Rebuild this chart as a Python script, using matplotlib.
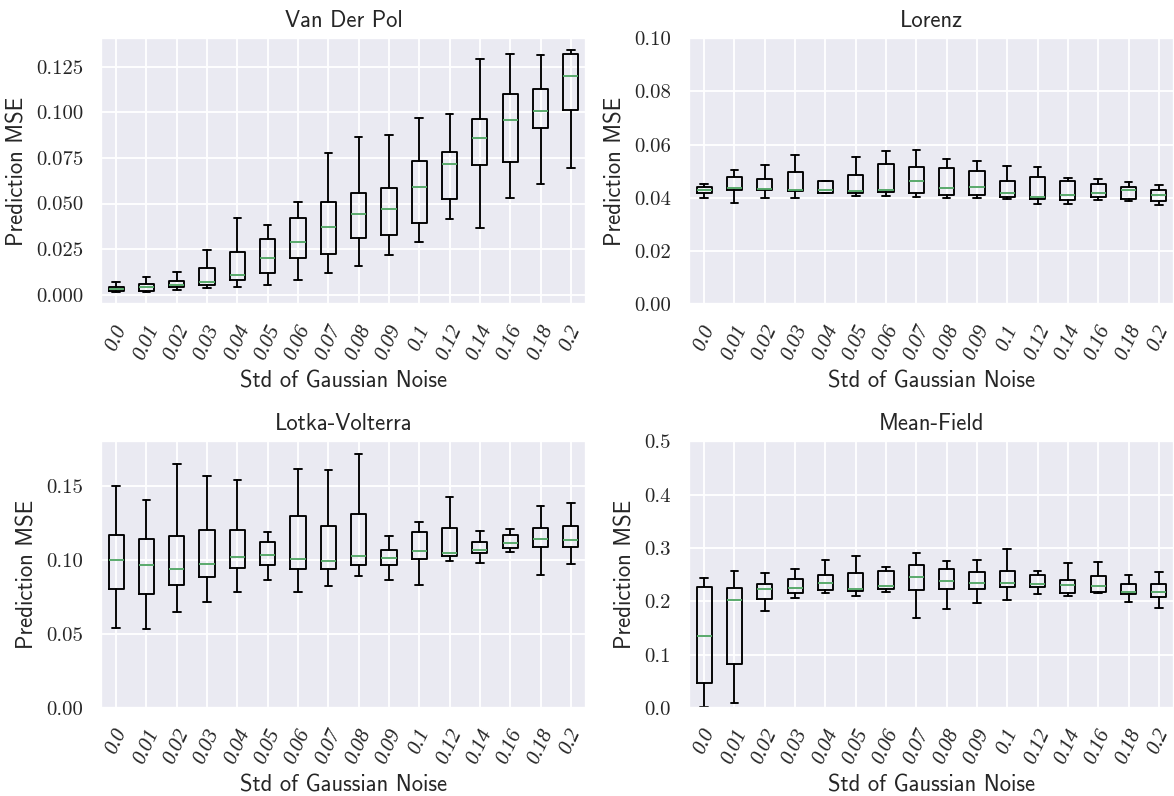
import numpy as np
import matplotlib
matplotlib.use("Agg")
import matplotlib.pyplot as plt
import seaborn as sns

# noise levels used on the x axis
noise_levels = [0.0, 0.01, 0.02, 0.03, 0.04, 0.05, 0.06, 0.07, 0.08, 0.09,
                0.1, 0.12, 0.14, 0.16, 0.18, 0.2]

# box statistics per system: lower whisker, Q1, median, Q3, upper whisker
vdp_lo  = [0.0013, 0.0016, 0.0024, 0.0037, 0.0042, 0.0053, 0.0082, 0.0120,
           0.0155, 0.0219, 0.0288, 0.0414, 0.0367, 0.0531, 0.0608, 0.0692]
vdp_q1  = [0.0022, 0.0022, 0.0042, 0.0055, 0.0080, 0.0119, 0.0204, 0.0224,
           0.0310, 0.0329, 0.0391, 0.0522, 0.0710, 0.0725, 0.0914, 0.1013]
vdp_med = [0.0033, 0.0040, 0.0055, 0.0068, 0.0108, 0.0203, 0.0287, 0.0370,
           0.0443, 0.0471, 0.0588, 0.0717, 0.0860, 0.0958, 0.1007, 0.1201]
vdp_q3  = [0.0045, 0.0058, 0.0078, 0.0148, 0.0232, 0.0308, 0.0423, 0.0506,
           0.0555, 0.0584, 0.0734, 0.0783, 0.0962, 0.1100, 0.1126, 0.1319]
vdp_hi  = [0.0068, 0.0097, 0.0124, 0.0246, 0.0422, 0.0380, 0.0507, 0.0776,
           0.0863, 0.0878, 0.0967, 0.0991, 0.1292, 0.1319, 0.1316, 0.1341]

lor_lo  = [0.0399, 0.0380, 0.0399, 0.0400, 0.0417, 0.0408, 0.0408, 0.0405,
           0.0399, 0.0400, 0.0394, 0.0376, 0.0376, 0.0391, 0.0389, 0.0372]
lor_q1  = [0.0418, 0.0428, 0.0430, 0.0424, 0.0419, 0.0418, 0.0421, 0.0418,
           0.0410, 0.0411, 0.0405, 0.0396, 0.0392, 0.0405, 0.0395, 0.0389]
lor_med = [0.0430, 0.0437, 0.0434, 0.0429, 0.0428, 0.0425, 0.0429, 0.0464,
           0.0437, 0.0439, 0.0419, 0.0404, 0.0409, 0.0420, 0.0430, 0.0409]
lor_q3  = [0.0439, 0.0478, 0.0469, 0.0497, 0.0463, 0.0487, 0.0528, 0.0515,
           0.0511, 0.0499, 0.0465, 0.0478, 0.0464, 0.0453, 0.0439, 0.0429]
lor_hi  = [0.0453, 0.0506, 0.0525, 0.0559, 0.0463, 0.0552, 0.0577, 0.0581,
           0.0547, 0.0540, 0.0518, 0.0516, 0.0474, 0.0472, 0.0458, 0.0448]

lv_lo  = [0.0537, 0.0535, 0.0648, 0.0715, 0.0781, 0.0862, 0.0785, 0.0822,
          0.0892, 0.0862, 0.0828, 0.0995, 0.0982, 0.1054, 0.0898, 0.0971]
lv_q1  = [0.0801, 0.0770, 0.0833, 0.0885, 0.0943, 0.0968, 0.0937, 0.0939,
          0.0968, 0.0964, 0.1007, 0.1027, 0.1045, 0.1079, 0.1088, 0.1090]
lv_med = [0.1002, 0.0964, 0.0939, 0.0971, 0.1020, 0.1031, 0.1007, 0.0995,
          0.1025, 0.1013, 0.1061, 0.1045, 0.1070, 0.1115, 0.1140, 0.1133]
lv_q3  = [0.1167, 0.1140, 0.1160, 0.1201, 0.1201, 0.1124, 0.1298, 0.1226,
          0.1311, 0.1065, 0.1187, 0.1214, 0.1122, 0.1167, 0.1217, 0.1232]
lv_hi  = [0.1496, 0.1402, 0.1650, 0.1566, 0.1537, 0.1187, 0.1614, 0.1609,
          0.1715, 0.1162, 0.1255, 0.1426, 0.1192, 0.1207, 0.1363, 0.1384]

mf_lo  = [0.0010, 0.0088, 0.1811, 0.2063, 0.2164, 0.2094, 0.2170, 0.1686,
          0.1855, 0.1962, 0.2019, 0.2145, 0.2094, 0.2151, 0.1987, 0.1874]
mf_q1  = [0.0459, 0.0818, 0.2038, 0.2164, 0.2214, 0.2189, 0.2226, 0.2220,
          0.2239, 0.2226, 0.2270, 0.2264, 0.2157, 0.2182, 0.2138, 0.2088]
mf_med = [0.1352, 0.2031, 0.2233, 0.2252, 0.2352, 0.2239, 0.2296, 0.2465,
          0.2384, 0.2346, 0.2352, 0.2327, 0.2308, 0.2296, 0.2182, 0.2176]
mf_q3  = [0.2277, 0.2252, 0.2333, 0.2415, 0.2503, 0.2541, 0.2572, 0.2673,
          0.2616, 0.2547, 0.2566, 0.2503, 0.2396, 0.2484, 0.2333, 0.2321]
mf_hi  = [0.2440, 0.2566, 0.2535, 0.2616, 0.2780, 0.2843, 0.2654, 0.2912,
          0.2755, 0.2780, 0.2981, 0.2572, 0.2711, 0.2742, 0.2491, 0.2553]

titles = ["Van Der Pol", "Lorenz", "Lotka-Volterra", "Mean-Field"]


def make_stats(lo, q1, med, q3, hi):
    stats = []
    for i in range(len(med)):
        stats.append({"whislo": lo[i], "q1": q1[i], "med": med[i],
                      "q3": q3[i], "whishi": hi[i], "fliers": []})
    return stats


sns.set_theme(style="darkgrid", context="notebook")
plt.rcParams["font.family"] = ["cmr10", "DejaVu Serif"]
plt.rcParams["axes.unicode_minus"] = False

fig, axes = plt.subplots(2, 2, figsize=(1174 / 136, 796 / 136), dpi=136)
fig.subplots_adjust(left=0.086, right=1.0, bottom=0.1106, top=0.9523,
                    wspace=0.2124, hspace=0.514)

systems = [
    make_stats(vdp_lo, vdp_q1, vdp_med, vdp_q3, vdp_hi),
    make_stats(lor_lo, lor_q1, lor_med, lor_q3, lor_hi),
    make_stats(lv_lo, lv_q1, lv_med, lv_q3, lv_hi),
    make_stats(mf_lo, mf_q1, mf_med, mf_q3, mf_hi),
]
ylims = [None, (0, 0.1), (0, 0.18), (0, 0.5)]

sans = ["cmss10", "DejaVu Sans"]
line = dict(color="black", linewidth=1.0)

for ax, stats, title, ylim in zip(axes.flat, systems, titles, ylims):
    ax.bxp(stats, showfliers=False, boxprops=line, whiskerprops=line,
           capprops=line, medianprops=dict(color="#55A868", linewidth=1.0))
    if ylim is not None:
        ax.set_ylim(*ylim)
    ax.set_xticks(np.arange(1, len(noise_levels) + 1))
    ax.set_xticklabels([str(v) for v in noise_levels], rotation=65,
                       family=["Liberation Serif"], style="italic",
                       fontsize=11)
    for lab in ax.get_yticklabels():
        lab.set_fontsize(11)
    ax.set_title(title, family=sans, fontsize=12)
    ax.set_xlabel("Std of Gaussian Noise", family=sans, fontsize=12)
    ax.set_ylabel("Prediction MSE", family=sans, fontsize=12)

fig.savefig("out.png", dpi=136)
